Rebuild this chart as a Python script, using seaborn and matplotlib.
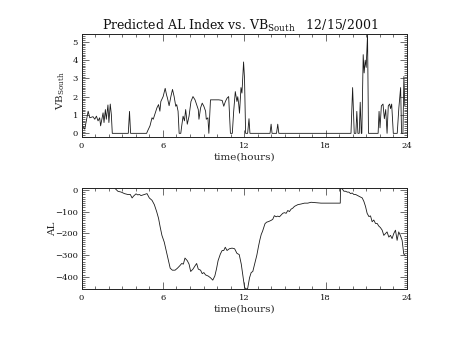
import matplotlib
matplotlib.use("Agg")
import matplotlib.pyplot as plt
import numpy as np
import pandas as pd
import seaborn as sns
from matplotlib.ticker import MultipleLocator, AutoMinorLocator

# Southward IMF component VB_South (hours UT, value)
vb_hours = [
    0.00, 0.24, 0.49, 0.61, 0.85, 0.98, 1.10, 1.22, 1.34, 1.41, 1.59, 1.66,
    1.76, 1.83, 1.95, 2.02, 2.12, 2.20, 2.27,
    3.45, 3.54, 3.62,
    4.80, 4.88, 5.05, 5.20, 5.29, 5.44, 5.56, 5.68, 5.78, 5.85, 6.02, 6.17,
    6.27, 6.34, 6.46, 6.59, 6.71, 6.83, 6.95, 7.02, 7.12, 7.20,
    7.32, 7.39, 7.49, 7.59, 7.68, 7.80, 7.93, 8.07, 8.22, 8.37, 8.49, 8.61,
    8.66, 8.78, 8.90, 9.02, 9.15, 9.20, 9.32, 9.39, 9.51, 9.88, 10.12, 10.37,
    10.49, 10.61, 10.73, 10.85, 10.98,
    11.12, 11.22, 11.34, 11.46, 11.52, 11.59, 11.65, 11.76, 11.83, 11.95,
    12.02, 12.10, 12.25, 12.35, 12.42,
    13.90, 13.98, 14.05, 14.38, 14.47, 14.55,
    19.87, 19.99, 20.11, 20.23, 20.30, 20.38, 20.48, 20.55, 20.63, 20.67,
    20.77, 20.84, 20.92, 20.99, 21.09, 21.16,
    21.87, 21.94, 22.01, 22.11, 22.23, 22.33, 22.43, 22.53, 22.62, 22.72,
    22.79, 22.87, 22.99,
    23.28, 23.40, 23.53, 23.60, 23.70, 23.77, 23.84,
]
vb_south = [
    0.50, 0.23, 1.21, 0.85, 0.91, 0.77, 0.94, 0.68, 0.85, 0.41, 1.12, 0.59,
    1.30, 0.77, 1.55, 0.59, 1.60, 1.03, 0.00,
    0.00, 1.20, 0.00,
    0.00, 0.14, 0.41, 0.85, 0.77, 1.12, 1.39, 1.57, 1.21, 1.74, 2.01, 2.46,
    2.10, 1.92, 1.51, 2.01, 2.40, 2.01, 1.48, 1.57, 1.21, 0.00,
    0.00, 0.41, 0.94, 0.68, 1.30, 0.50, 0.94, 1.74, 2.01, 1.83, 1.57, 1.30,
    0.77, 1.39, 1.65, 1.48, 1.21, 0.77, 0.85, 0.00, 1.83, 1.83, 1.83, 1.80,
    1.48, 1.74, 1.92, 2.01, 0.00,
    0.00, 1.20, 2.28, 1.74, 2.00, 1.60, 1.10, 2.50, 2.20, 3.90,
    3.00, 0.00, 0.00, 0.80, 0.00,
    0.00, 0.50, 0.00, 0.00, 0.50, 0.00,
    0.00, 2.50, 0.00, 0.00, 1.20, 0.00, 0.00, 1.70, 0.00, 0.00,
    4.30, 3.30, 4.00, 3.60, 5.40, 0.00,
    0.00, 1.20, 0.30, 1.50, 1.60, 0.80, 1.30, 0.00, 1.50, 1.60,
    1.35, 1.60, 0.00,
    0.00, 1.40, 2.50, 0.00, 0.00, 3.10, 1.50,
]

# Predicted AL index (hours UT, nT)
al_hours = [
    2.44, 2.68, 2.93, 3.17, 3.41, 3.60, 3.73, 3.83, 4.02, 4.15, 4.27, 4.39,
    4.63, 4.83, 5.00, 5.20, 5.37, 5.54, 5.68, 5.80, 5.93, 6.10, 6.27, 6.41,
    6.54, 6.70, 6.90, 7.07, 7.24, 7.39, 7.51, 7.63, 7.80, 7.93, 8.05, 8.22,
    8.37, 8.49, 8.61, 8.78, 8.90, 9.02, 9.15, 9.34, 9.51, 9.68, 9.83, 9.95,
    10.07, 10.24, 10.37, 10.49, 10.60, 10.73, 10.90, 11.10, 11.29, 11.46,
    11.63, 11.78, 11.90, 12.02, 12.12, 12.25, 12.39, 12.51, 12.63, 12.80,
    12.93, 13.05, 13.15, 13.25, 13.35, 13.53, 13.65, 13.80, 13.97, 14.10,
    14.22, 14.35, 14.47, 14.60, 14.72, 14.84, 14.96, 15.09, 15.21, 15.33,
    15.45, 15.58, 15.70, 15.95, 16.19, 16.44, 16.68, 16.93, 17.66, 18.15,
    19.08,
    19.10, 19.23, 19.35, 19.47, 19.60, 19.72, 19.84, 19.96, 20.08, 20.21,
    20.45, 20.70, 20.82, 20.94, 21.06, 21.19, 21.31, 21.43, 21.55, 21.68,
    21.80, 21.92, 22.04, 22.17, 22.29, 22.41, 22.53, 22.66, 22.78, 22.90,
    23.02, 23.15, 23.27, 23.39, 23.51, 23.64, 23.76, 23.88,
]
al_index = [
    10, -5, -9, -16, -20, -20, -36, -28, -17, -22, -20, -25,
    -20, -16, -36, -47, -67, -99, -130, -170, -209, -240, -287, -326,
    -361, -370, -370, -361, -350, -339, -342, -314, -326, -342, -376, -365,
    -350, -339, -365, -370, -386, -381, -392, -397, -405, -416, -397, -365,
    -326, -295, -279, -279, -264, -279, -271, -268, -271, -292,
    -298, -342, -397, -449, -457, -455, -405, -381, -376, -334,
    -300, -260, -230, -205, -190, -155, -148, -145, -140, -135,
    -118, -123, -120, -123, -115, -107, -104, -107, -94, -99,
    -88, -83, -75, -67, -64, -60, -60, -56, -60, -60,
    -60,
    10, 5, -5, -5, -9, -9, -16, -13, -20, -20,
    -28, -36, -52, -75, -107, -122, -119, -146, -138, -154,
    -154, -166, -173, -185, -209, -201, -193, -217, -209, -224,
    -201, -185, -232, -193, -209, -232, -295, -303,
]

hour_ticks = [0, 6, 12, 18, 24]
vb_ticks = [0, 1, 2, 3, 4, 5]
al_ticks = [0, -100, -200, -300, -400]

vb_df = pd.DataFrame({"hours": vb_hours, "vb": vb_south})
al_df = pd.DataFrame({"hours": al_hours, "al": al_index})

sns.set_theme(style="ticks")
plt.rcParams["font.family"] = ["DejaVu Serif"]
plt.rcParams["mathtext.fontset"] = "dejavuserif"
plt.rcParams["axes.edgecolor"] = "black"
plt.rcParams["text.color"] = "#111111"

W, H = 454, 341
fig = plt.figure(figsize=(W / 100, H / 100), dpi=100)
fig.patch.set_facecolor("white")

left, right = 81.5, 407.0
ax1 = fig.add_axes([left / W, 1 - 137 / H, (right - left) / W, (137 - 34.5) / H])
ax2 = fig.add_axes([left / W, 1 - 289 / H, (right - left) / W, (289 - 188) / H])

sns.lineplot(data=vb_df, x="hours", y="vb", ax=ax1, estimator=None, sort=False,
             color="#1a1a1a", linewidth=0.6)
sns.lineplot(data=al_df, x="hours", y="al", ax=ax2, estimator=None, sort=False,
             color="#1a1a1a", linewidth=0.6)

ax1.set_ylim(-0.2, 5.4)
ax2.set_ylim(-457, 10)
ax1.set_yticks(vb_ticks)
ax2.set_yticks(al_ticks)

for ax in (ax1, ax2):
    ax.set_xlim(0, 24)
    ax.set_xticks(hour_ticks)
    ax.xaxis.set_minor_locator(MultipleLocator(1))
    ax.yaxis.set_minor_locator(AutoMinorLocator(10))
    ax.tick_params(which="both", direction="in", top=True, right=True,
                   color="#333333", labelsize=6, width=0.5,
                   labelcolor="#111111")
    ax.tick_params(which="major", length=5)
    ax.tick_params(which="minor", length=2.5)
    ax.tick_params(axis="x", pad=3.5)
    ax.tick_params(axis="y", pad=2.5)
    for s in ax.spines.values():
        s.set_visible(True)
        s.set_color("#222222")
        s.set_linewidth(0.7)
    ax.set_xlabel("time(hours)", fontsize=7.5)
    ax.grid(False)

ax1.xaxis.set_label_coords(0.5, -0.15)
ax2.xaxis.set_label_coords(0.5, -0.15)

ax1.set_ylabel(r"VB$_{\mathrm{South}}$", fontsize=7.5)
ax1.yaxis.set_label_coords(-0.045, 0.45)
ax2.set_ylabel("AL", fontsize=7.5)
ax2.yaxis.set_label_coords(-0.075, 0.60)

fig.text(102 / W, 1 - 30 / H,
         r"Predicted AL Index vs. VB$_{\mathrm{South}}$   12/15/2001",
         ha="left", va="baseline", fontsize=9.0)

fig.savefig("out.png", dpi=100, facecolor="white")
